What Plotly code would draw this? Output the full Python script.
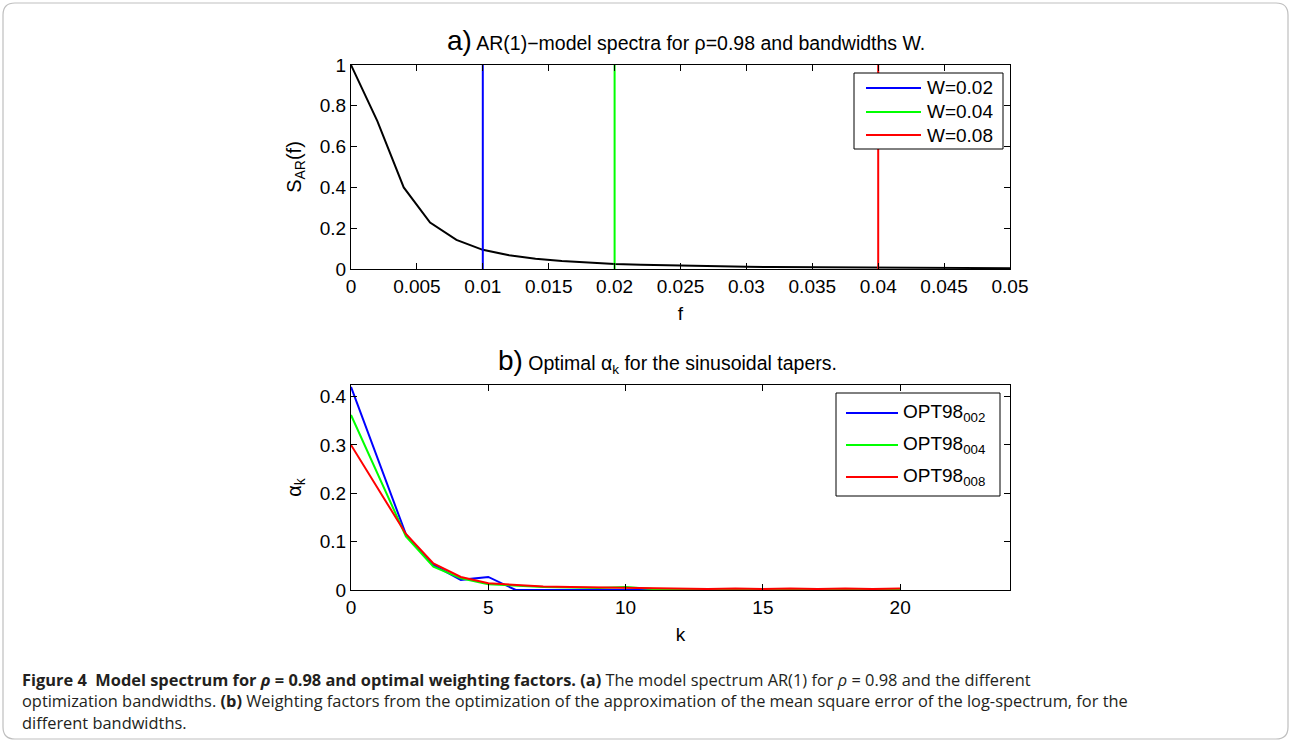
import plotly.graph_objects as go

W = 1292
H = 743

# ---- data (a) ----
f_vals = [0.000, 0.002, 0.004, 0.006, 0.008, 0.010, 0.012, 0.014, 0.016, 0.018,
          0.020, 0.022, 0.024, 0.026, 0.028, 0.030, 0.032, 0.034, 0.036, 0.038,
          0.040, 0.042, 0.044, 0.046, 0.048, 0.050]
s_ar = [1.000, 0.725, 0.400, 0.228, 0.143, 0.094, 0.067, 0.050, 0.039, 0.031,
        0.025, 0.021, 0.018, 0.015, 0.013, 0.011, 0.010, 0.009, 0.008, 0.007,
        0.0064, 0.0058, 0.0053, 0.0048, 0.0044, 0.0041]
bandwidths = [0.02, 0.04, 0.08]
bw_labels = ["W=0.02", "W=0.04", "W=0.08"]
line_colors = ["#0000ff", "#00ff00", "#ff0000"]

# ---- data (b) ----
k_vals = list(range(0, 21))
opt_002 = [0.420, 0.268, 0.115, 0.052, 0.021, 0.027, 0.000, 0.000, 0.000, 0.000,
           0.000, 0.000, 0.000, 0.000, 0.000, 0.000, 0.000, 0.000, 0.000, 0.000, 0.000]
opt_004 = [0.362, 0.238, 0.111, 0.048, 0.024, 0.012, 0.009, 0.006, 0.005, 0.004,
           0.006, 0.002, 0.002, 0.001, 0.001, 0.001, 0.001, 0.001, 0.001, 0.001, 0.001]
opt_008 = [0.300, 0.208, 0.116, 0.055, 0.027, 0.014, 0.010, 0.007, 0.006, 0.005,
           0.004, 0.003, 0.003, 0.002, 0.003, 0.002, 0.003, 0.002, 0.003, 0.002, 0.003]
opt_labels = ["OPT98<sub>002</sub>", "OPT98<sub>004</sub>", "OPT98<sub>008</sub>"]

FONT = "Liberation Sans, Arial, Helvetica, sans-serif"
CAP_FONT = "Open Sans, sans-serif"

def px_x(p):
    return p / W

def px_y(p):
    return 1 - p / H

fig = go.Figure()

fig.add_trace(go.Scatter(x=f_vals, y=s_ar, mode="lines", line=dict(color="black", width=2),
                         showlegend=False, xaxis="x", yaxis="y"))
for bw, lab, col in zip(bandwidths, bw_labels, line_colors):
    fig.add_trace(go.Scatter(x=[bw / 2, bw / 2], y=[0, 1], mode="lines",
                             line=dict(color=col, width=2), name=lab, showlegend=False,
                             xaxis="x", yaxis="y"))

for ser, lab, col in zip([opt_002, opt_004, opt_008], opt_labels, line_colors):
    fig.add_trace(go.Scatter(x=k_vals, y=ser, mode="lines", line=dict(color=col, width=2),
                             name=lab, showlegend=False, xaxis="x2", yaxis="y2"))

axis_common = dict(showline=True, linecolor="black", linewidth=1, mirror="ticks",
                   ticks="inside", ticklen=6, tickcolor="black", showgrid=False,
                   zeroline=False, tickfont=dict(family=FONT, size=19, color="black"))

x_dom = [px_x(351), px_x(1010)]
fig.update_layout(
    width=W, height=H, margin=dict(l=0, r=0, t=0, b=0, autoexpand=False), autosize=False,
    paper_bgcolor="white", plot_bgcolor="white", showlegend=False,
    font=dict(family=FONT, color="black"),
    xaxis=dict(domain=x_dom, range=[0, 0.05], dtick=0.005, tick0=0, anchor="y",
               title=dict(text="f", font=dict(size=19), standoff=10), **axis_common),
    yaxis=dict(domain=[px_y(269), px_y(65)], range=[0, 1], dtick=0.2, anchor="x",
               title=dict(text="S<sub>AR</sub>(f)", font=dict(size=20), standoff=12), **axis_common),
    xaxis2=dict(domain=x_dom, range=[0, 24], dtick=5, tick0=0, anchor="y2",
                title=dict(text="k", font=dict(size=19), standoff=10), **axis_common),
    yaxis2=dict(domain=[px_y(590), px_y(385)], range=[0, 0.424], dtick=0.1, anchor="x2",
                title=dict(text="α<sub>k</sub>", font=dict(size=20), standoff=12), **axis_common),
)

# ---- legends drawn as boxes with sample lines and labels ----
def draw_legend(box, rows, line_x, text_x, labels):
    bx0, by0, bx1, by1 = box
    fig.add_shape(type="rect", xref="paper", yref="paper",
                  x0=px_x(bx0), x1=px_x(bx1), y0=px_y(by1), y1=px_y(by0),
                  line=dict(color="black", width=1), fillcolor="white", layer="above")
    for ry, lab, col in zip(rows, labels, line_colors):
        fig.add_shape(type="line", xref="paper", yref="paper",
                      x0=px_x(line_x[0]), x1=px_x(line_x[1]), y0=px_y(ry), y1=px_y(ry),
                      line=dict(color=col, width=2), layer="above")
        fig.add_annotation(x=px_x(text_x), y=px_y(ry), xref="paper", yref="paper",
                           showarrow=False, xanchor="left", yanchor="middle", text=lab,
                           font=dict(family=FONT, size=19, color="black"))

draw_legend((854, 73, 1003, 149), [88, 112, 135], (866, 921), 925, bw_labels)
draw_legend((836, 393, 1000, 496), [413, 445, 477], (846, 898), 901, opt_labels)

# subplot titles
fig.add_annotation(x=px_x(686), y=px_y(40), xref="paper", yref="paper", showarrow=False,
                   xanchor="center", yanchor="middle",
                   text="<span style='font-size:28px'>a)</span> AR(1)−model spectra for ρ=0.98 and bandwidths W.",
                   font=dict(family=FONT, size=19.5, color="black"))
fig.add_annotation(x=px_x(667), y=px_y(361), xref="paper", yref="paper", showarrow=False,
                   xanchor="center", yanchor="middle",
                   text="<span style='font-size:28px'>b)</span> Optimal α<sub>k</sub> for the sinusoidal tapers.",
                   font=dict(family=FONT, size=19.5, color="black"))

# caption
cap_text = ("<b>Figure 4  Model spectrum for <i>ρ</i> = 0.98 and optimal weighting factors. (a)</b> "
            "The model spectrum AR(1) for <i>ρ</i> = 0.98 and the different<br>"
            "optimization bandwidths. <b>(b)</b> Weighting factors from the optimization of the "
            "approximation of the mean square error of the log-spectrum, for the<br>"
            "different bandwidths.")
fig.add_annotation(x=px_x(20), y=px_y(701), xref="paper", yref="paper", showarrow=False,
                   xanchor="left", yanchor="middle", align="left", text=cap_text,
                   font=dict(family=CAP_FONT, size=16.4, color="#231f20"))

# outer rounded border
x0, x1, y0, y1, r = 3, 1288, 3, 739, 12
path = (f"M {px_x(x0 + r)},{px_y(y0)} L {px_x(x1 - r)},{px_y(y0)} "
        f"Q {px_x(x1)},{px_y(y0)} {px_x(x1)},{px_y(y0 + r)} "
        f"L {px_x(x1)},{px_y(y1 - r)} Q {px_x(x1)},{px_y(y1)} {px_x(x1 - r)},{px_y(y1)} "
        f"L {px_x(x0 + r)},{px_y(y1)} Q {px_x(x0)},{px_y(y1)} {px_x(x0)},{px_y(y1 - r)} "
        f"L {px_x(x0)},{px_y(y0 + r)} Q {px_x(x0)},{px_y(y0)} {px_x(x0 + r)},{px_y(y0)} Z")
fig.add_shape(type="path", path=path, xref="paper", yref="paper",
              line=dict(color="#bfbfbf", width=1.2), layer="below")

fig.write_html("out.html", post_script="document.body.style.margin='0';")
